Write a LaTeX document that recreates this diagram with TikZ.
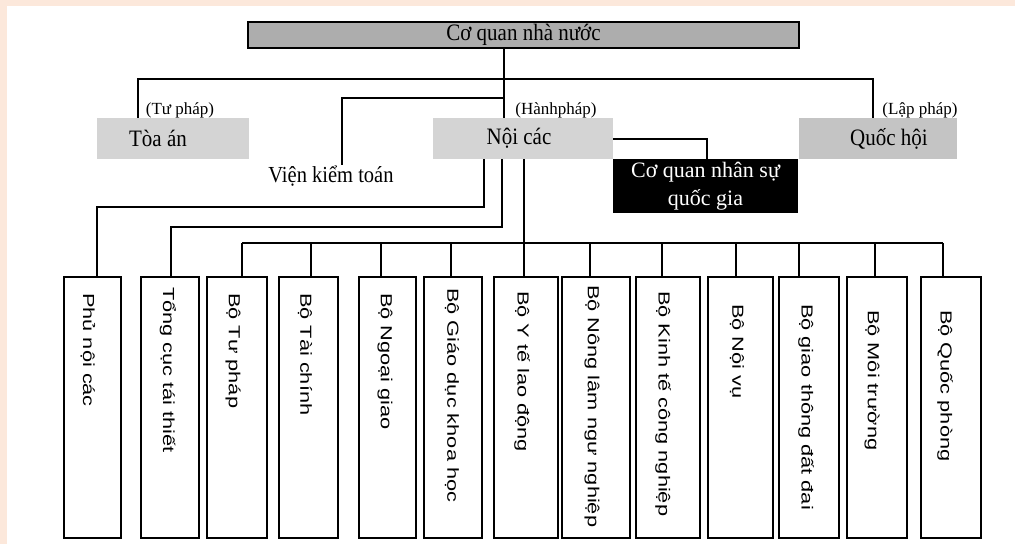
\documentclass[tikz,border=0pt]{standalone}
\usepackage{fontspec}
\setmainfont{Liberation Serif}
\newfontfamily\lsans{Liberation Sans}
\usepackage{graphicx}
\definecolor{peach}{HTML}{FCE8DB}
\definecolor{grayA}{HTML}{ADADAD}
\definecolor{grayB}{HTML}{D4D4D4}
\definecolor{grayC}{HTML}{C4C4C4}
\newcommand\vlab[1]{\scalebox{1.36}[1]{\lsans\fontsize{16}{18}\selectfont #1}}
\newcommand\tall[1]{\scalebox{1}[1.12]{#1}}
\begin{document}
\begin{tikzpicture}[x=1pt,y=-1pt,
  conn/.style={draw=black,line width=1.1pt},
  topbox/.style={draw=black,line width=1.3pt,fill=grayA,inner sep=0pt,minimum width=551pt,minimum height=26pt,font=\fontsize{21}{24}\selectfont},
  branch/.style={fill=grayB,inner sep=0pt,minimum height=41pt,font=\fontsize{21}{24}\selectfont},
  darkbox/.style={fill=black,text=white,inner sep=0pt,minimum width=185pt,minimum height=54pt,align=center,font=\fontsize{22}{28}\selectfont},
  plain/.style={inner sep=1pt,font=\fontsize{20.5}{24}\selectfont},
  tag/.style={inner sep=0pt,font=\fontsize{17}{20}\selectfont},
  minbox/.style={draw=black,line width=1.3pt,inner sep=0pt,minimum height=261pt,minimum width=#1},
  vtext/.style={rotate=-90,anchor=west,inner sep=0pt}]
\useasboundingbox (0,0) rectangle (1015,544);
\fill[white] (0,0) rectangle (1015,544);
\fill[peach] (0,0) rectangle (1015,6);
\fill[peach] (0,0) rectangle (7,544);

% top level
\node[topbox] (top) at (523.5,35) {\tall{Cơ quan nhà nước}};
\node[branch,minimum width=152pt] (toa) at (173,138.5) {\hspace*{-30pt}\tall{Tòa án}};
\node[branch,minimum width=180pt] (noi) at (523,138.5) {\hspace*{-8pt}\tall{Nội các}};
\node[branch,fill=grayC,minimum width=158pt] (quoc) at (878,138.5) {\hspace*{22pt}\tall{Quốc hội}};
\node[darkbox] (cqns) at (705.5,186) {Cơ quan nhân sự\\quốc gia};
\node[plain] (vkt) at (331,176) {\tall{Viện kiểm toán}};
\node[tag] (ltp) at (180,110) {(Tư pháp)};
\node[tag] (lhp) at (556,110) {(Hànhpháp)};
\node[tag] (llp) at (920,110) {(Lập pháp)};

% bottom boxes
\node[minbox=57pt] (b1) at (92.5,407.5) {};
\node[minbox=58pt] (b2) at (170,407.5) {};
\node[minbox=60pt] (b3) at (237,407.5) {};
\node[minbox=59pt] (b4) at (308.5,407.5) {};
\node[minbox=57pt] (b5) at (387.5,407.5) {};
\node[minbox=58pt] (b6) at (453,407.5) {};
\node[minbox=64pt] (b7) at (526,407.5) {};
\node[minbox=68pt] (b8) at (596,407.5) {};
\node[minbox=64pt] (b9) at (668,407.5) {};
\node[minbox=65pt] (b10) at (740.5,407.5) {};
\node[minbox=60pt] (b11) at (809,407.5) {};
\node[minbox=60pt] (b12) at (877,407.5) {};
\node[minbox=60pt] (b13) at (951,407.5) {};

\node[vtext] (t1) at (88,293) {\vlab{Phủ nội các}};
\node[vtext] (t2) at (168,287) {\vlab{Tổng cục tái thiết}};
\node[vtext] (t3) at (233,293) {\vlab{Bộ Tư pháp}};
\node[vtext] (t4) at (305,293) {\vlab{Bộ Tài chính}};
\node[vtext] (t5) at (385,293) {\vlab{Bộ Ngoại giao}};
\node[vtext] (t6) at (452,288) {\vlab{Bộ Giáo dục khoa học}};
\node[vtext] (t7) at (522,291) {\vlab{Bộ Y tế lao động}};
\node[vtext] (t8) at (592,285) {\vlab{Bộ Nông lâm ngư nghiệp}};
\node[vtext] (t9) at (663,291) {\vlab{Bộ Kinh tế công nghiệp}};
\node[vtext] (t10) at (737,304) {\vlab{Bộ Nội vụ}};
\node[vtext] (t11) at (806,304) {\vlab{Bộ giao thông đất đai}};
\node[vtext] (t12) at (872,310) {\vlab{Bộ Môi trường}};
\node[vtext] (t13) at (945,310) {\vlab{Bộ Quốc phòng}};

% junction coordinates
\coordinate (m) at (504,79);
\coordinate (bl) at (138,79);
\coordinate (br) at (873,79);
\coordinate (vj) at (504,98);
\coordinate (vk) at (342,98);
\coordinate (nc) at (707,139);
\coordinate (p1) at (484,207);
\coordinate (q1) at (97,207);
\coordinate (p2) at (502,227);
\coordinate (q2) at (171,227);
\coordinate (k3) at (242,243);
\coordinate (k4) at (311,243);
\coordinate (k5) at (381,243);
\coordinate (k6) at (451,243);
\coordinate (k7) at (524,243);
\coordinate (k8) at (590,243);
\coordinate (k9) at (662,243);
\coordinate (k10) at (736,243);
\coordinate (k11) at (799,243);
\coordinate (k12) at (875,243);
\coordinate (k13) at (943,243);

% connectors
\draw[conn] (top.south -| m) -- (noi.north -| m);
\draw[conn] (bl |- toa.north) -- (bl) -- (br) -- (br |- quoc.north);
\draw[conn] (vj) -- (vk) -- (vk |- vkt.north);
\draw[conn] (noi.east |- nc) -- (nc) -- (nc |- cqns.north);
\draw[conn] (noi.south -| p1) -- (p1) -- (q1) -- (q1 |- b1.north);
\draw[conn] (noi.south -| p2) -- (p2) -- (q2) -- (q2 |- b2.north);
\draw[conn] (noi.south -| k7) -- (k7 |- b7.north);
\draw[conn] (k3) -- (k13);
\foreach \i in {3,4,5,6,8,9,10,11,12,13}{
  \draw[conn] (k\i) -- (k\i |- b\i.north);
}
\end{tikzpicture}
\end{document}
